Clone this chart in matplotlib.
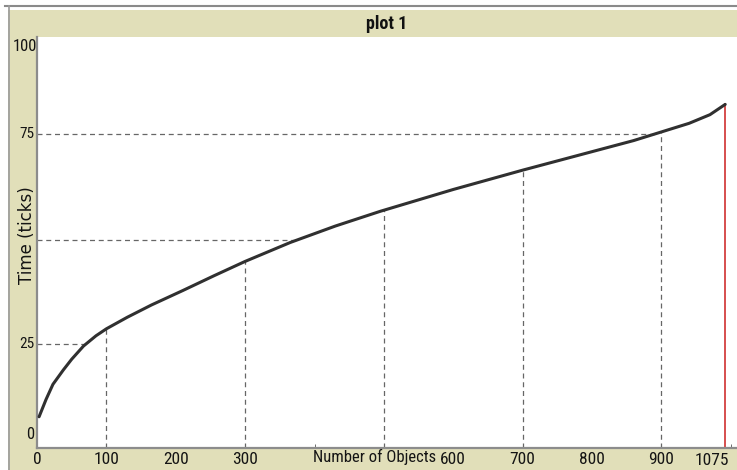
import numpy as np
import matplotlib
matplotlib.use("Agg")
from matplotlib import pyplot as plt
from matplotlib.patches import Rectangle
from matplotlib.lines import Line2D

# curve
n_objects = [3, 13, 23, 38, 50, 67, 85, 100, 130, 165, 210, 255, 300, 365,
             430, 495, 600, 700, 800, 860, 900, 940, 970, 992]
time_ticks = [7.6, 11.8, 15.5, 19.0, 21.6, 24.8, 27.3, 29.0, 31.8, 34.8, 38.3,
              41.9, 45.4, 50.0, 54.0, 57.6, 62.9, 67.6, 72.1, 74.8, 76.9, 79.0,
              81.1, 83.6]

# drop lines added on the plot
drop_x = [100, 300, 500, 700, 900]
level_y = [25.3, 50.6, 76.4]
level_labels = ['25', '', '75']

x_tick_vals = [0, 100, 200, 300, 600, 700, 800, 900]
x_tick_labels = ['0', '100', '200', '300', '600', '700', '800', '900']
end_label = '1075'

beige = '#e1dfb9'
ink = '#141414'
W, H = 737, 470
plt.rcParams['font.family'] = ['Roboto Condensed', 'DejaVu Sans']
plt.rcParams['font.stretch'] = 'condensed'

fig = plt.figure(figsize=(W / 100, H / 100), dpi=100)
fig.patch.set_facecolor('white')


def box(x0, y0, x1, y1):
    # pixel box (top-left origin) -> figure fraction
    return (x0 / W, 1 - y1 / H, (x1 - x0) / W, (y1 - y0) / H)


l, b, w, h = box(8, 10, W, H)
fig.add_artist(Rectangle((l, b), w, h, transform=fig.transFigure,
                         facecolor=beige, edgecolor='none', zorder=0))
fig.add_artist(Line2D([5 / W, 1], [1 - 5.5 / H] * 2, transform=fig.transFigure,
                      color='#8a8a8a', lw=1.5))
fig.add_artist(Line2D([8.5 / W] * 2, [0, 1 - 5.5 / H], transform=fig.transFigure,
                      color='#9a9a9a', lw=1.2))
fig.text(387 / W, 1 - 24 / H, 'plot 1', ha='center', va='center',
         fontsize=13, fontweight='bold', color='#111111')

ax = fig.add_axes(box(37, 37, W, 448))
ax.set_facecolor('white')
ax.set_xlim(0, 1009)
ax.set_ylim(0, 100)

ax.plot(n_objects, time_ticks, color='#303030', lw=2.2,
        solid_capstyle='round', solid_joinstyle='round', zorder=3)

dash = (0, (4, 3))
for x in drop_x:
    top = np.interp(x, n_objects, time_ticks)
    ax.plot([x, x], [0, top], color='#666666', lw=0.9, ls=dash, zorder=2)
for y in level_y:
    right = np.interp(y, time_ticks, n_objects)
    ax.plot([0, right], [y, y], color='#666666', lw=0.9, ls=dash, zorder=2)

ax.plot([n_objects[-1]] * 2, [0, time_ticks[-1]], color='#d03030', lw=1.2, zorder=2)

for s in ['top', 'right']:
    ax.spines[s].set_visible(False)
for s in ['left', 'bottom']:
    ax.spines[s].set_color('#8c8c8c')
    ax.spines[s].set_linewidth(1.6)

ax.set_xticks(x_tick_vals)
ax.set_xticklabels(x_tick_labels)
ax.set_xticks(range(0, 1001, 100), minor=True)
ax.tick_params(axis='x', which='major', length=0, pad=3, labelsize=12.5,
               labelcolor=ink)
ax.tick_params(axis='x', which='minor', direction='in', length=3, color='#555555')
ax.text(n_objects[-1] + 5, -1.2, end_label, ha='right', va='top',
        fontsize=12.5, color=ink, clip_on=False)
ax.text(487, -0.3, 'Number of Objects', ha='center', va='top',
        fontsize=12, color=ink, clip_on=False)

ax.set_yticks([])
ax.text(-4, 1.5, '0', ha='right', va='bottom', fontsize=12, color=ink, clip_on=False)
ax.text(-0.5, 99.5, '100', ha='right', va='top', fontsize=12, color=ink, clip_on=False)
for y, lab in zip(level_y, level_labels):
    if lab:
        ax.text(-4, y, lab, ha='right', va='center', fontsize=11,
                color=ink, clip_on=False)
ax.set_ylabel('Time (ticks)', fontsize=12, color=ink,
              family='DejaVu Sans', fontstretch='normal')
ax.yaxis.set_label_coords(-1 / 700, 0.5 + 7.5 / 411)

fig.savefig('out.png', dpi=100, facecolor=fig.get_facecolor())
